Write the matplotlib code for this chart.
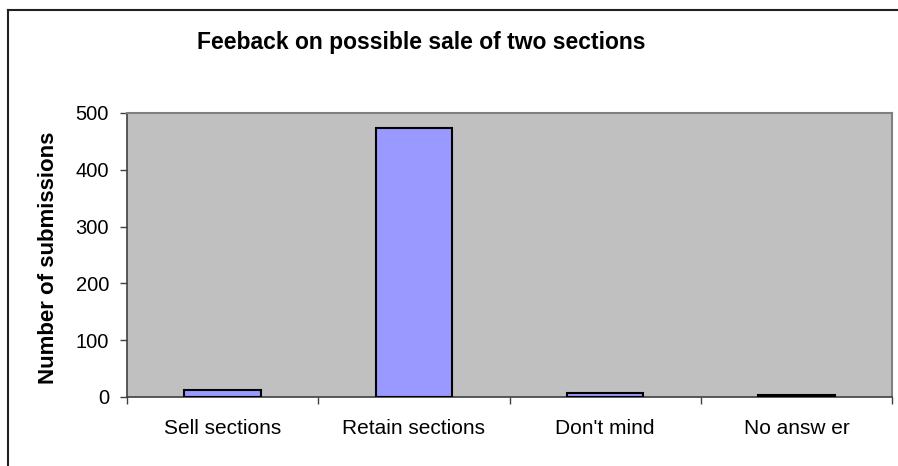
import matplotlib.pyplot as plt
from matplotlib.lines import Line2D

# data
categories = ["Sell sections", "Retain sections", "Don't mind", "No answ er"]
submissions = [13, 474, 7, 3]
y_ticks = [0, 100, 200, 300, 400, 500]

plt.rcParams["font.family"] = ["Liberation Sans", "DejaVu Sans"]

fig = plt.figure(figsize=(8.98, 4.66), dpi=100)
ax = fig.add_axes([127 / 898, 69 / 466, 765 / 898, 284 / 466])
ax.set_facecolor("#C0C0C0")

x = list(range(len(categories)))
ax.bar(x, submissions, width=0.4, color="#9999FF", edgecolor="black", linewidth=1.5, zorder=3)

ax.set_xlim(-0.5, len(categories) - 0.5)
ax.set_ylim(0, 500)
ax.set_yticks(y_ticks)
ax.set_yticklabels([str(v) for v in y_ticks], fontsize=14.5)

# ticks between categories, labels at centers
ax.set_xticks([i - 0.5 for i in range(len(categories) + 1)])
ax.set_xticklabels([])
ax.set_xticks(x, minor=True)
ax.set_xticklabels(categories, minor=True, fontsize=15)
ax.tick_params(axis="x", which="minor", length=0, pad=16)
ax.tick_params(axis="x", which="major", length=5, width=1, color="#404040")
ax.tick_params(axis="y", length=5, width=1, color="#404040", pad=8)

for side in ["top", "right"]:
    ax.spines[side].set_color("#808080")
    ax.spines[side].set_linewidth(1.5)
for side in ["left", "bottom"]:
    ax.spines[side].set_color("#404040")
    ax.spines[side].set_linewidth(1.2)

fig.text(421 / 898, 1 - 49 / 466, "Feeback on possible sale of two sections",
         fontsize=16.5, fontweight="bold", ha="center", va="baseline")
fig.text(49 / 898, 208 / 466, "Number of submissions", fontsize=16,
         fontweight="bold", rotation=90, ha="center", va="center")

# outer chart border (runs off the right and bottom)
fig.add_artist(Line2D([8 / 898, 8 / 898], [-0.1, 1 - 10 / 466], transform=fig.transFigure,
                      color="#202020", linewidth=1.5))
fig.add_artist(Line2D([8 / 898, 1.1], [1 - 10 / 466, 1 - 10 / 466], transform=fig.transFigure,
                      color="#202020", linewidth=1.5))

plt.savefig("out.png", dpi=100)
